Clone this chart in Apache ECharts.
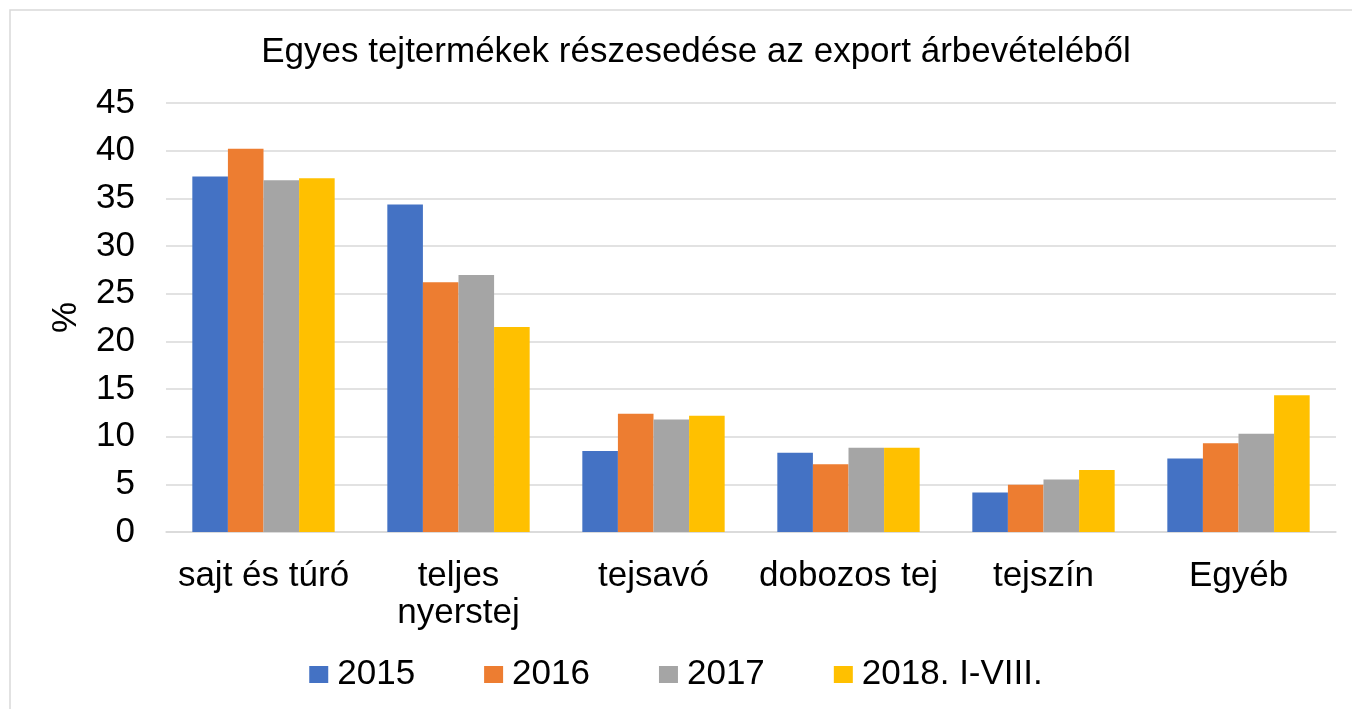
<!DOCTYPE html>
<html>
<head>
    <meta charset="utf-8" />
    <title>Egyes tejtermékek részesedése</title>
    <script src="https://cdn.jsdelivr.net/npm/echarts@6/dist/echarts.min.js"></script>
    <style type="text/css">
        html, body { margin: 0; padding: 0; background: #fff; }
        #chart { width: 1352px; height: 709px; }
    </style>
</head>
<body>
    <div id="chart"></div>
    <script>
        // kategóriák és sorozatok
        var categories = ['sajt és túró', 'teljes\nnyerstej', 'tejsavó', 'dobozos tej', 'tejszín', 'Egyéb'];
        var seriesNames = ['2015', '2016', '2017', '2018. I-VIII.'];
        var values2015 = [37.3, 34.35, 8.5, 8.3, 4.15, 7.7];
        var values2016 = [40.2, 26.2, 12.4, 7.1, 4.95, 9.3];
        var values2017 = [36.9, 26.95, 11.8, 8.85, 5.5, 10.3];
        var values2018 = [37.1, 21.5, 12.2, 8.85, 6.5, 14.35];
        var colors = ['#4472C4', '#ED7D31', '#A5A5A5', '#FFC000'];

        var allValues = [values2015, values2016, values2017, values2018];
        var fontFamily = '"Liberation Sans", Arial, sans-serif';

        var chart = echarts.init(document.getElementById('chart'));

        var option = {
            animation: false,
            color: colors,
            textStyle: { fontFamily: fontFamily },
            graphic: [{
                type: 'rect',
                shape: { x: 10, y: 10, width: 1360, height: 720 },
                style: { fill: null, stroke: '#d9d9d9', lineWidth: 1.5 },
                silent: true
            }],
            title: {
                text: 'Egyes tejtermékek részesedése az export árbevételéből',
                left: 691,
                textAlign: 'center',
                top: 30,
                textStyle: { fontSize: 35, fontWeight: 'normal', color: '#000', fontFamily: fontFamily }
            },
            legend: {
                data: seriesNames,
                bottom: 12,
                left: 'center',
                itemWidth: 19,
                itemHeight: 17,
                itemGap: 69,
                icon: 'rect',
                textStyle: { fontSize: 35, color: '#000', fontFamily: fontFamily, padding: [0, 0, 0, 4] }
            },
            grid: {
                left: 166,
                right: 16,
                top: 103,
                bottom: 177,
                containLabel: false
            },
            xAxis: {
                type: 'category',
                data: categories,
                axisTick: { show: false },
                axisLine: { lineStyle: { color: '#d9d9d9', width: 1.5 } },
                axisLabel: {
                    fontSize: 35,
                    color: '#000',
                    lineHeight: 37,
                    margin: 26,
                    interval: 0,
                    fontFamily: fontFamily
                }
            },
            yAxis: {
                type: 'value',
                min: 0,
                max: 45,
                interval: 5,
                name: '%',
                nameLocation: 'middle',
                nameRotate: 90,
                nameGap: 82,
                nameTextStyle: { fontSize: 35, color: '#000', fontFamily: fontFamily },
                axisLine: { show: false },
                axisTick: { show: false },
                axisLabel: { fontSize: 35, color: '#000', margin: 31, fontFamily: fontFamily },
                splitLine: { lineStyle: { color: '#d9d9d9', width: 1.5 } }
            },
            series: seriesNames.map(function (name, i) {
                return {
                    name: name,
                    type: 'bar',
                    data: allValues[i],
                    barGap: '0%',
                    barCategoryGap: '27%'
                };
            })
        };

        chart.setOption(option);
    </script>
</body>
</html>
